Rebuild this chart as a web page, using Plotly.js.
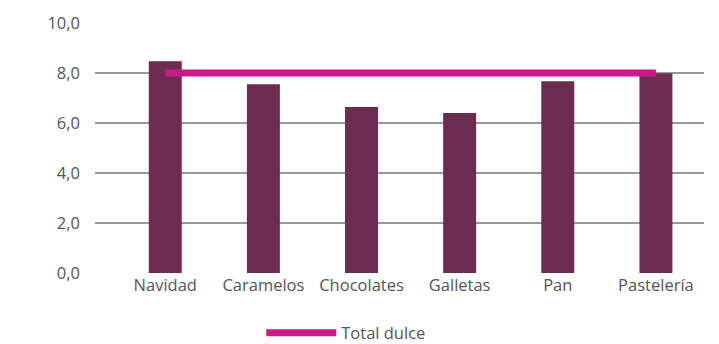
<!DOCTYPE html>
<html>
<head>
<meta charset="utf-8">
<script src="https://cdn.plot.ly/plotly-3.0.1.min.js"></script>
<style>html,body{margin:0;padding:0;background:#fff;}#chart{width:719px;height:344px;}</style>
</head>
<body>
<div id="chart"></div>
<script>
const categories = ["Navidad", "Caramelos", "Chocolates", "Galletas", "Pan", "Pastelería"];
const values = [8.47, 7.55, 6.64, 6.40, 7.67, 7.99];
const totalDulce = [8.0, 8.0, 8.0, 8.0, 8.0, 8.0];
const yTicks = [0, 2, 4, 6, 8, 10];

const traces = [
  {
    type: "bar",
    x: categories,
    y: values,
    marker: {color: "#6B2C50"},
    width: 0.336,
    showlegend: false,
    hoverinfo: "x+y"
  },
  {
    type: "scatter",
    mode: "lines",
    x: categories,
    y: totalDulce,
    name: "Total dulce",
    line: {color: "#C71A8B", width: 7}
  }
];

const layout = {
  width: 719,
  height: 344,
  margin: {l: 95, r: 15, t: 23, b: 71, autoexpand: false},
  paper_bgcolor: "#fff",
  plot_bgcolor: "#fff",
  separators: ",.",
  font: {family: "Open Sans, sans-serif", size: 16.5, color: "#555"},
  xaxis: {
    type: "category",
    range: [-0.716, 5.49],
    showgrid: false,
    zeroline: false,
    showline: false,
    ticks: "",
    automargin: false,
    tickfont: {size: 16.5, color: "#555"}
  },
  yaxis: {
    range: [0, 10],
    tickvals: yTicks,
    tickformat: ".1f",
    showgrid: true,
    gridcolor: "#9a9a9a",
    gridwidth: 1.5,
    zeroline: false,
    showline: false,
    ticks: "",
    automargin: false,
    ticklabelstandoff: 14,
    tickfont: {size: 16.5, color: "#555"}
  },
  showlegend: true,
  legend: {
    orientation: "h",
    x: 0.273,
    xanchor: "left",
    y: -0.24,
    yanchor: "middle",
    font: {size: 16.5, color: "#555"},
    itemwidth: 70
  }
};

Plotly.newPlot("chart", traces, layout, {displayModeBar: false, staticPlot: true});
</script>
</body>
</html>
